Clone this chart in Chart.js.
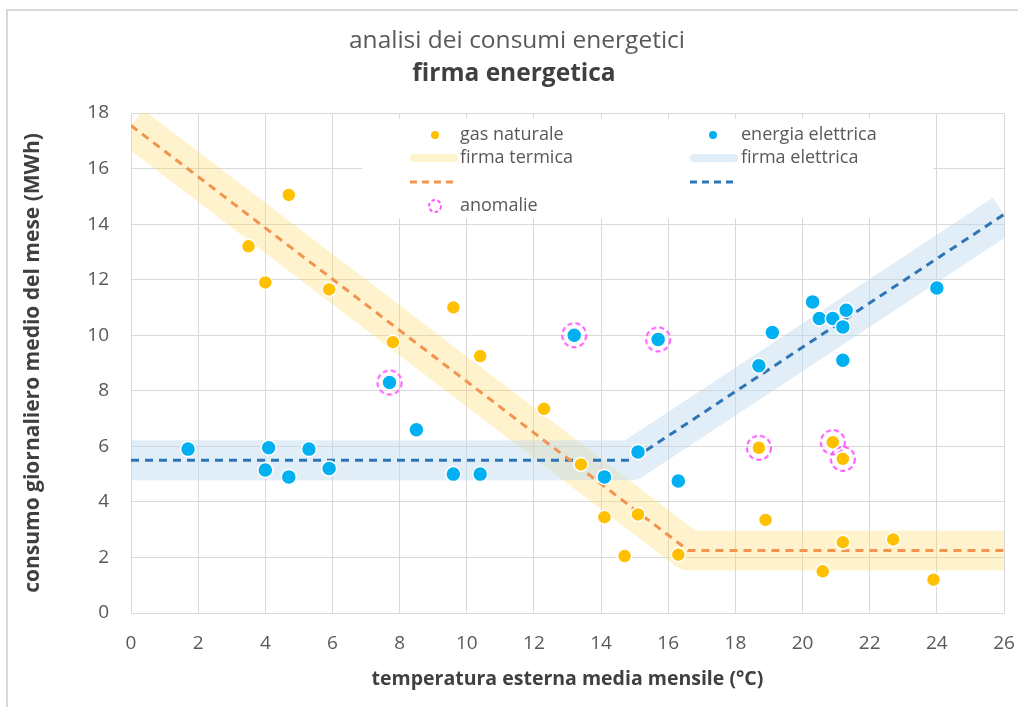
<!DOCTYPE html>
<html>
<head>
<meta charset="utf-8">
<script src="https://cdn.jsdelivr.net/npm/chart.js@4.4.1/dist/chart.umd.min.js"></script>
<style>
html,body{margin:0;padding:0;background:#fff;}
#wrap{position:relative;width:1018px;height:707px;}
</style>
</head>
<body>
<div id="wrap"><canvas id="c" width="1018" height="707"></canvas></div>
<script>
// ---- data ----
const gasTemp = [3.5, 4.7, 4.0, 5.9, 7.8, 9.6, 10.4, 12.3, 13.4, 14.1, 14.7, 15.1, 16.3, 18.7, 18.9, 20.6, 20.9, 21.2, 21.2, 22.7, 23.9];
const gasCons = [13.2, 15.05, 11.9, 11.65, 9.75, 11.0, 9.25, 7.35, 5.35, 3.45, 2.05, 3.55, 2.1, 5.95, 3.35, 1.5, 6.15, 5.55, 2.55, 2.65, 1.2];

const elTemp = [1.7, 4.0, 4.1, 4.7, 5.3, 5.9, 7.7, 8.5, 9.6, 10.4, 13.2, 14.1, 15.1, 15.7, 16.3, 18.7, 19.1, 20.3, 20.5, 20.9, 21.2, 21.3, 21.2, 24.0];
const elCons = [5.9, 5.15, 5.95, 4.9, 5.9, 5.2, 8.3, 6.6, 5.0, 5.0, 10.0, 4.9, 5.8, 9.85, 4.75, 8.9, 10.1, 11.2, 10.6, 10.6, 10.3, 10.9, 9.1, 11.7];

const anomTemp = [7.7, 13.2, 15.7, 18.7, 20.9, 21.2];
const anomCons = [8.3, 10.0, 9.85, 5.95, 6.15, 5.55];

const sigThermTemp = [0, 16.6, 26];
const sigThermCons = [17.55, 2.25, 2.25];
const sigElecTemp = [0, 14.9, 26];
const sigElecCons = [5.5, 5.5, 14.35];

const xTicks = [0, 2, 4, 6, 8, 10, 12, 14, 16, 18, 20, 22, 24, 26];
const yTicks = [0, 2, 4, 6, 8, 10, 12, 14, 16, 18];

const titleMain = 'analisi dei consumi energetici';
const titleSub = 'firma energetica';
const xTitle = 'temperatura esterna media mensile (°C)';
const yTitle = 'consumo giornaliero medio del mese (MWh)';
const labels = ['gas naturale', 'energia elettrica', 'firma termica', 'firma elettrica', 'anomalie'];

// ---- helpers ----
const zip = (xs, ys) => xs.map((x, i) => ({x: x, y: ys[i]}));
const C = {
  gas: '#FFC000', el: '#00B0F0',
  bandT: 'rgba(255,217,102,0.32)', bandE: 'rgba(189,215,238,0.45)',
  dashT: '#F29450', dashE: '#2E75B6', anom: '#FF55FF',
  grid: '#D9D9D9', text: '#595959', bold: '#404040'
};
const FONT = '"Open Sans"';

function ringCanvas(r, lw, dash) {
  const s = Math.ceil(2 * r + lw + 4);
  const cv = document.createElement('canvas');
  cv.width = s; cv.height = s;
  const g = cv.getContext('2d');
  g.strokeStyle = C.anom; g.lineWidth = lw; g.setLineDash(dash);
  g.beginPath(); g.arc(s / 2, s / 2, r, 0, Math.PI * 2); g.stroke();
  return cv;
}
const ring = ringCanvas(12, 2, [5, 3.2]);

const pluginDecor = {
  id: 'decor',
  beforeDraw(chart) {
    const ctx = chart.ctx;
    ctx.save();
    ctx.strokeStyle = C.grid; ctx.lineWidth = 2;
    ctx.beginPath(); ctx.moveTo(7, 707); ctx.lineTo(7, 10); ctx.lineTo(1018, 10); ctx.stroke();
    ctx.fillStyle = C.text; ctx.textAlign = 'center'; ctx.textBaseline = 'middle';
    ctx.font = '24.5px ' + FONT;
    ctx.fillText(titleMain, 517, 41);
    ctx.fillStyle = C.bold;
    ctx.font = 'bold 24.5px ' + FONT;
    ctx.fillText(titleSub, 514, 74);
    ctx.restore();
  },
  beforeDatasetsDraw(chart) {
    const ctx = chart.ctx;
    ctx.save();
    ctx.fillStyle = '#fff';
    ctx.fillRect(362, 119, 571, 99);
    ctx.font = '18px ' + FONT; ctx.fillStyle = C.text; ctx.textBaseline = 'middle'; ctx.textAlign = 'left';
    const cols = [{ix: 435, lx: 410, tx: 460, dot: C.gas, band: C.bandT, dash: C.dashT, t1: labels[0], t2: labels[2]},
                  {ix: 713, lx: 690, tx: 741, dot: C.el, band: C.bandE, dash: C.dashE, t1: labels[1], t2: labels[3]}];
    cols.forEach(c => {
      ctx.fillStyle = c.dot; ctx.beginPath(); ctx.arc(c.ix, 135, 4, 0, Math.PI * 2); ctx.fill();
      ctx.fillStyle = C.text; ctx.fillText(c.t1, c.tx, 135);
      ctx.strokeStyle = c.band; ctx.lineWidth = 8; ctx.lineCap = 'round';
      ctx.beginPath(); ctx.moveTo(c.lx + 4, 158); ctx.lineTo(c.lx + 44, 158); ctx.stroke();
      ctx.fillText(c.t2, c.tx, 158);
      ctx.strokeStyle = c.dash; ctx.lineWidth = 3; ctx.lineCap = 'butt'; ctx.setLineDash([7, 5]);
      ctx.beginPath(); ctx.moveTo(c.lx, 182); ctx.lineTo(c.lx + 47, 182); ctx.stroke();
      ctx.setLineDash([]);
    });
    ctx.strokeStyle = C.anom; ctx.lineWidth = 2; ctx.setLineDash([3.5, 2.5]);
    ctx.beginPath(); ctx.arc(435, 206, 6, 0, Math.PI * 2); ctx.stroke();
    ctx.setLineDash([]);
    ctx.fillText(labels[4], 460, 206);
    ctx.restore();
  }
};

new Chart(document.getElementById('c'), {
  type: 'scatter',
  data: {
    datasets: [
      {label: labels[0], data: zip(gasTemp, gasCons), backgroundColor: C.gas, borderColor: '#fff', borderWidth: 1.5, pointRadius: 7, order: 0},
      {label: labels[1], data: zip(elTemp, elCons), backgroundColor: C.el, borderColor: '#fff', borderWidth: 1.5, pointRadius: 7.5, order: 0},
      {label: labels[2], data: zip(sigThermTemp, sigThermCons), showLine: true, borderColor: C.bandT, borderWidth: 40, pointRadius: 0, borderJoinStyle: 'round', clip: 0, order: 5},
      {label: labels[3], data: zip(sigElecTemp, sigElecCons), showLine: true, borderColor: C.bandE, borderWidth: 40, pointRadius: 0, borderJoinStyle: 'round', clip: 0, order: 4},
      {label: '', data: zip(sigThermTemp, sigThermCons), showLine: true, borderColor: C.dashT, borderWidth: 3, borderDash: [8, 6], pointRadius: 0, clip: 0, order: 3},
      {label: ' ', data: zip(sigElecTemp, sigElecCons), showLine: true, borderColor: C.dashE, borderWidth: 3, borderDash: [8, 6], pointRadius: 0, clip: 0, order: 3},
      {label: labels[4], data: zip(anomTemp, anomCons), pointStyle: ring, pointRadius: 12, order: 1}
    ]
  },
  options: {
    responsive: false,
    animation: false,
    events: [],
    layout: {padding: {left: 0, right: 14, top: 113, bottom: 0}},
    plugins: {legend: {display: false}, tooltip: {enabled: false}, title: {display: false}},
    scales: {
      x: {
        type: 'linear', min: 0, max: 26,
        afterBuildTicks: s => { s.ticks = xTicks.map(v => ({value: v})); },
        ticks: {padding: 19, color: C.text, font: {family: FONT, size: 19}, maxRotation: 0, autoSkip: false},
        grid: {color: C.grid, drawTicks: false},
        border: {color: C.grid},
        title: {display: true, text: xTitle, color: C.bold, font: {family: FONT, size: 19.5, weight: 'bold'}, padding: {top: 0, bottom: 16}},
        afterFit: s => { s.height = 94; s.paddingLeft = 0; s.paddingRight = 0; }
      },
      y: {
        type: 'linear', min: 0, max: 18,
        afterBuildTicks: s => { s.ticks = yTicks.map(v => ({value: v})); },
        ticks: {padding: 22, color: C.text, font: {family: FONT, size: 19}},
        grid: {color: C.grid, drawTicks: false},
        border: {color: C.grid},
        title: {display: true, text: yTitle, color: C.bold, font: {family: FONT, size: 21, weight: 'bold'}, padding: {top: 20, bottom: 0}},
        afterFit: s => { s.width = 131; }
      }
    }
  },
  plugins: [pluginDecor]
});
</script>
</body>
</html>
